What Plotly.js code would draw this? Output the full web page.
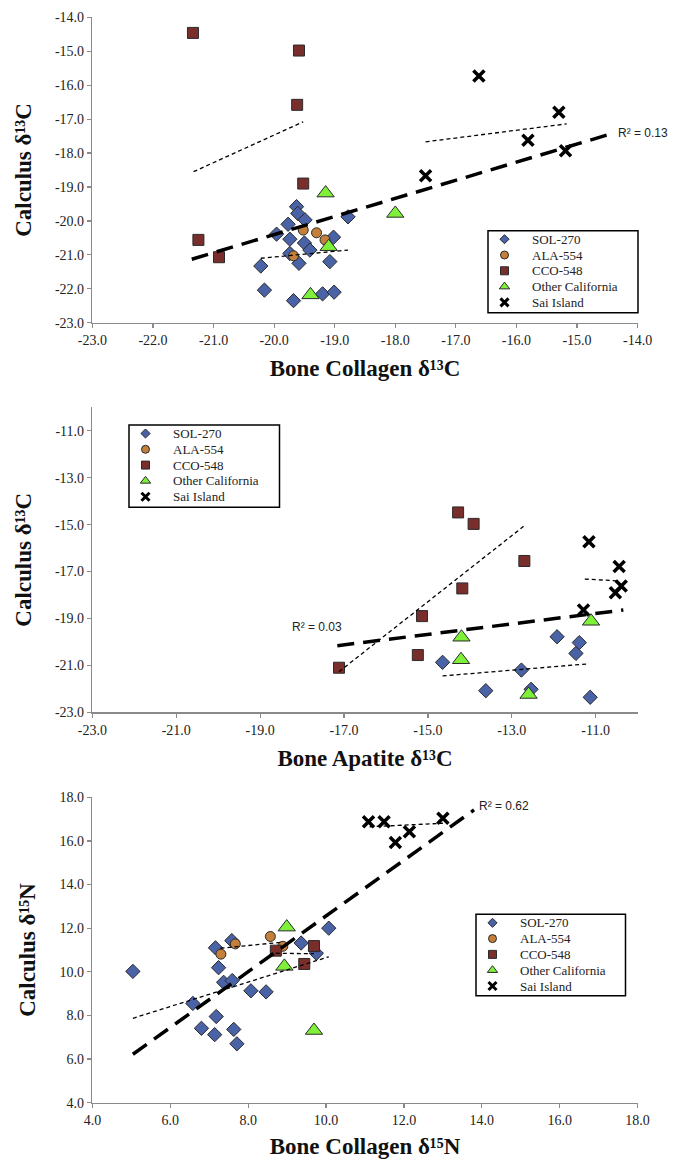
<!DOCTYPE html>
<html><head><meta charset="utf-8">
<script src="https://cdn.plot.ly/plotly-3.0.1.min.js"></script>
<style>body{margin:0;background:#fff}#chart{width:674px;height:1159px}</style>
</head><body><div id="chart"></div>
<script>
// ---------- Panel 1: Bone Collagen d13C vs Calculus d13C ----------
const sol1_x = [-19.63,-19.61,-19.49,-19.77,-18.78,-19.96,-19.74,-19.50,-19.02,-19.41,-19.74,-19.59,-19.08,-20.22,-20.16,-19.68,-19.20,-19.01];
const sol1_y = [-19.58,-19.78,-19.97,-20.10,-19.88,-20.39,-20.54,-20.65,-20.48,-20.86,-20.96,-21.25,-21.20,-21.33,-22.04,-22.35,-22.15,-22.10];
const ala1_x = [-19.52,-19.30,-19.16,-19.68];
const ala1_y = [-20.27,-20.35,-20.56,-21.03];
const cco1_x = [-21.34,-19.59,-19.62,-19.52,-21.25,-20.91];
const cco1_y = [-14.46,-14.98,-16.58,-18.90,-20.56,-21.07];
const oth1_x = [-19.15,-19.10,-19.40,-18.00];
const oth1_y = [-19.18,-20.76,-22.18,-19.78];
const sai1_x = [-16.62,-15.30,-15.81,-15.19,-17.50];
const sai1_y = [-15.73,-16.80,-17.62,-17.93,-18.67];
const fitAll1_x = [-21.36,-14.41], fitAll1_y = [-21.13,-17.42];
const fitCco1_x = [-21.33,-19.52], fitCco1_y = [-18.55,-17.08];
const fitSai1_x = [-17.50,-15.17], fitSai1_y = [-17.67,-17.14];
const fitSol1_x = [-20.22,-18.78], fitSol1_y = [-21.10,-20.86];
const r2_1 = 'R² = 0.13';

// ---------- Panel 2: Bone Apatite d13C vs Calculus d13C ----------
const sol2_x = [-14.65,-13.62,-12.77,-12.54,-11.92,-11.47,-11.39,-11.13];
const sol2_y = [-20.87,-22.08,-21.20,-22.02,-19.78,-20.49,-20.03,-22.36];
const ala2_x = [], ala2_y = [];
const cco2_x = [-14.28,-13.91,-12.70,-14.18,-15.14,-15.24,-17.12];
const cco2_y = [-14.48,-14.97,-16.55,-17.72,-18.90,-20.56,-21.10];
const oth2_x = [-14.20,-14.21,-12.60,-11.11];
const oth2_y = [-19.80,-20.76,-22.24,-19.12];
const sai2_x = [-11.16,-10.44,-10.39,-10.53,-11.29];
const sai2_y = [-15.73,-16.79,-17.62,-17.90,-18.64];
const fitAll2_x = [-17.16,-10.34], fitAll2_y = [-20.16,-18.64];
const fitCco2_x = [-17.12,-12.68], fitCco2_y = [-21.27,-15.02];
const fitSol2_x = [-14.65,-11.21], fitSol2_y = [-21.45,-20.94];
const fitSai2_x = [-11.26,-10.44], fitSai2_y = [-17.32,-17.40];
const r2_2 = 'R² = 0.03';

// ---------- Panel 3: Bone Collagen d15N vs Calculus d15N ----------
const sol3_x = [5.04,7.16,7.58,7.24,7.37,7.59,8.07,8.46,6.58,7.18,6.80,7.14,7.63,7.71,10.07,9.36,9.75];
const sol3_y = [10.02,11.10,11.43,10.19,9.52,9.60,9.13,9.08,8.55,7.95,7.41,7.12,7.36,6.70,12.00,11.32,10.85];
const ala3_x = [7.30,7.67,8.57,8.89];
const ala3_y = [10.81,11.28,11.62,11.17];
const cco3_x = [8.71,9.69,9.44];
const cco3_y = [10.97,11.18,10.36];
const oth3_x = [8.99,8.93,9.69];
const oth3_y = [12.05,10.25,7.31];
const sai3_x = [11.09,11.49,11.78,12.14,13.00];
const sai3_y = [16.88,16.88,15.93,16.42,17.04];
const fitAll3_x = [5.04,13.80], fitAll3_y = [6.22,17.42];
const fitSol3_x = [5.04,10.07], fitSol3_y = [7.87,10.69];
const fitAla3_x = [7.29,8.89], fitAla3_y = [11.08,11.36];
const fitCco3_x = [8.71,9.69], fitCco3_y = [10.85,10.83];
const fitSai3_x = [11.12,13.00], fitSai3_y = [16.65,16.81];
const r2_3 = 'R² = 0.62';

// ---------- labels / ticks ----------
const seriesNames = ['SOL-270','ALA-554','CCO-548','Other California','Sai Island'];
const ticks1 = [-23,-22,-21,-20,-19,-18,-17,-16,-15,-14];
const ticks2 = [-23,-21,-19,-17,-15,-13,-11];
const ticks3 = [4,6,8,10,12,14,16,18];
const xTitles = ['Bone Collagen δ¹³C','Bone Apatite δ¹³C','Bone Collagen δ¹⁵N'];
const yTitles = ['Calculus δ¹³C','Calculus δ¹³C','Calculus δ¹⁵N'];

// ---------- styles ----------
const OUT = {color:'#2a2a2a', width:1};
const styles = [
  {symbol:'diamond', size:11, color:'#4a62a6', line:OUT},
  {symbol:'circle', size:10, color:'#c47f3b', line:OUT},
  {symbol:'square', size:11, color:'#7a2e2c', line:OUT},
  {symbol:'triangle-up', size:15, color:'#7ff03a', line:OUT},
  {symbol:'x-thin-open', size:11, color:'#000', line:{color:'#000', width:3.5}}
];
const legStyles = [
  {symbol:'diamond', size:7, color:'#4a62a6', line:OUT},
  {symbol:'circle', size:8, color:'#c47f3b', line:OUT},
  {symbol:'square', size:8, color:'#7a2e2c', line:OUT},
  {symbol:'triangle-up', size:9, color:'#7ff03a', line:OUT},
  {symbol:'x-thin-open', size:8, color:'#000', line:{color:'#000', width:3}}
];

const panels = [
  {xs:[sol1_x,ala1_x,cco1_x,oth1_x,sai1_x], ys:[sol1_y,ala1_y,cco1_y,oth1_y,sai1_y],
   fits:[[fitCco1_x,fitCco1_y],[fitSai1_x,fitSai1_y],[fitSol1_x,fitSol1_y]], all:[fitAll1_x,fitAll1_y]},
  {xs:[sol2_x,ala2_x,cco2_x,oth2_x,sai2_x], ys:[sol2_y,ala2_y,cco2_y,oth2_y,sai2_y],
   fits:[[fitCco2_x,fitCco2_y],[fitSol2_x,fitSol2_y],[fitSai2_x,fitSai2_y]], all:[fitAll2_x,fitAll2_y]},
  {xs:[sol3_x,ala3_x,cco3_x,oth3_x,sai3_x], ys:[sol3_y,ala3_y,cco3_y,oth3_y,sai3_y],
   fits:[[fitSol3_x,fitSol3_y],[fitAla3_x,fitAla3_y],[fitCco3_x,fitCco3_y],[fitSai3_x,fitSai3_y]], all:[fitAll3_x,fitAll3_y]}
];

const W = 674, H = 1159;
const SERIF = 'Liberation Serif, Times New Roman, serif';
const SANS = 'Liberation Sans, Arial, sans-serif';
const xd = [92.4/W, 637.6/W];
const yd = [[1-322.7/H, 1-17.3/H],[1-712.3/H, 1-407.3/H],[1-1102.7/H, 1-797.3/H]];
// legend boxes (page pixels)
const legBoxes = [{left:488, top:230.7, w:150, h:82}, {left:129, top:425, w:150.5, h:82.3}, {left:476, top:914.3, w:149.5, h:81.4}];
const ROW0 = 8.5, ROWSTEP = 15.8, MARKX = 16.5, TEXTX = 42;

const traces = [];
const annotations = [];
const shapes = [];
panels.forEach((p, i) => {
  const xa = i === 0 ? 'x' : 'x' + (i + 1);
  const ya = i === 0 ? 'y' : 'y' + (i + 1);
  for (let s = 0; s < 5; s++) {
    traces.push({type:'scatter', mode:'markers', x:p.xs[s], y:p.ys[s], xaxis:xa, yaxis:ya,
      name:seriesNames[s], showlegend:false, marker:styles[s], hoverinfo:'x+y'});
  }
  p.fits.forEach(f => traces.push({type:'scatter', mode:'lines', x:f[0], y:f[1], xaxis:xa, yaxis:ya,
    showlegend:false, line:{color:'#000', width:1.3, dash:'4px,3px'}, hoverinfo:'skip'}));
  traces.push({type:'scatter', mode:'lines', x:p.all[0], y:p.all[1], xaxis:xa, yaxis:ya,
    showlegend:false, line:{color:'#000', width:3.5, dash:'17px,9px'}, hoverinfo:'skip'});
  // legend (drawn on its own overlay axes, in box pixel units)
  const lx = 'x' + (i + 4), ly = 'y' + (i + 4);
  const b = legBoxes[i];
  shapes.push({type:'rect', xref:'paper', yref:'paper', x0:b.left/W, x1:(b.left+b.w)/W,
    y0:1-(b.top+b.h)/H, y1:1-b.top/H, line:{color:'#000', width:1.5}, fillcolor:'#fff', layer:'below'});
  for (let s = 0; s < 5; s++) {
    traces.push({type:'scatter', mode:'markers', x:[MARKX], y:[ROW0 + ROWSTEP*s], xaxis:lx, yaxis:ly,
      name:seriesNames[s], showlegend:false, marker:legStyles[s], hoverinfo:'skip'});
    annotations.push({xref:lx, yref:ly, x:TEXTX, y:ROW0 + ROWSTEP*s, text:seriesNames[s], showarrow:false,
      xanchor:'left', yanchor:'middle', font:{family:SERIF, size:13, color:'#222'}});
  }
});

function axis(range, tickvals, domain, anchor, title, standoff) {
  return {range:range, domain:domain, anchor:anchor, tickmode:'array', tickvals:tickvals,
    ticktext:tickvals.map(v => v.toFixed(1)), showgrid:false, zeroline:false, showline:true,
    linecolor:'#8a8a8a', linewidth:1.5, ticks:'outside', ticklen:4, tickwidth:1.2, tickcolor:'#8a8a8a',
    tickfont:{family:SERIF, size:14, color:'#222'}, automargin:false, fixedrange:true,
    title:{text:title, font:{family:SERIF, size:23, color:'#111', weight:'bold'}, standoff:standoff}};
}
function hidden(domain, range, anchor) {
  return {domain:domain, range:range, anchor:anchor, visible:false, fixedrange:true, showgrid:false, zeroline:false};
}

const layout = {
  width:W, height:H, margin:{l:0, r:0, t:0, b:0},
  paper_bgcolor:'#fff', plot_bgcolor:'rgba(0,0,0,0)', showlegend:false,
  font:{family:SERIF, size:13, color:'#222'},
  xaxis: axis([-23,-14], ticks1, xd, 'y', xTitles[0], 13),
  yaxis: axis([-23,-14], ticks1, yd[0], 'x', yTitles[0], 17),
  xaxis2: axis([-23,-10], ticks2, xd, 'y2', xTitles[1], 13),
  yaxis2: axis([-23,-10], ticks2, yd[1], 'x2', yTitles[1], 17),
  xaxis3: axis([4,18], ticks3, xd, 'y3', xTitles[2], 13),
  yaxis3: axis([4,18], ticks3, yd[2], 'x3', yTitles[2], 17),
  shapes: shapes,
  annotations: annotations.concat([
    {xref:'x', yref:'y', x:fitAll1_x[1], y:fitAll1_y[1], text:r2_1, showarrow:false, xanchor:'left', xshift:3,
     font:{family:SANS, size:12, color:'#222'}},
    {xref:'x2', yref:'y2', x:fitAll2_x[0], y:fitAll2_y[0], text:r2_2, showarrow:false, xanchor:'center', xshift:-20, yshift:19,
     font:{family:SANS, size:12, color:'#222'}},
    {xref:'x3', yref:'y3', x:fitAll3_x[1], y:fitAll3_y[1], text:r2_3, showarrow:false, xanchor:'left', xshift:3, yshift:4,
     font:{family:SANS, size:12, color:'#222'}}
  ])
};
legBoxes.forEach((b, i) => {
  layout['xaxis' + (i + 4)] = hidden([b.left/W, (b.left+b.w)/W], [0, b.w], 'y' + (i + 4));
  layout['yaxis' + (i + 4)] = hidden([1-(b.top+b.h)/H, 1-b.top/H], [b.h, 0], 'x' + (i + 4));
});

Plotly.newPlot('chart', traces, layout, {staticPlot:true, displayModeBar:false});
</script>
</body></html>
